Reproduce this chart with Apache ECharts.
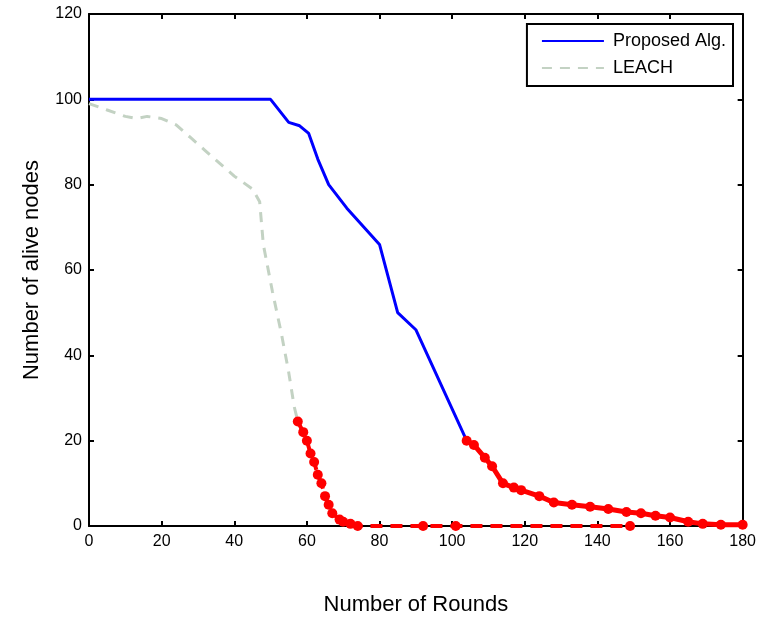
<!DOCTYPE html>
<html>
<head>
<meta charset="utf-8">
<title>Alive nodes</title>
<script src="https://cdn.jsdelivr.net/npm/echarts@6/dist/echarts.min.js"></script>
<style>
  html, body { margin: 0; padding: 0; background: #fff; }
  #main { width: 759px; height: 621px; }
</style>
</head>
<body>
<div id="main"></div>
<script>
// data: [round, alive nodes]
var proposed = [[0,100],[25,100],[50,100],[55,94.6],[58,93.8],[60.5,92],[63,86],[66,80],[71,74.5],[80,66],[85,50],[90,46],[104,20]];
var proposedTail = [[104,20],[106,19],[109,16],[111,14],[114,10],[117,9],[119,8.4],[124,7],[128,5.5],[133,5],[138,4.5],[143,4],[148,3.3],[152,3],[156,2.4],[160,2],[165,1],[169,0.5],[174,0.3],[180,0.3]];
var leach = [[0,99],[5,97.5],[10,96],[13,95.5],[16,96],[20,95.5],[24,94],[28,91],[32,88],[36,85],[40,82],[45,79],[47,76],[48,66],[50.5,55],[53,45],[55,36],[56.5,28],[57.5,24.5]];
var leachTail = [[57.5,24.5],[59,22],[60,20],[61,17],[62,15],[63,12],[64,10],[65,7],[66,5],[67,3],[69,1.5],[70,1],[72,0.5],[74,0],[92,0],[101,0],[149,0]];
var seriesNames = ['Proposed Alg.', 'LEACH'];

var myChart = echarts.init(document.getElementById('main'));

var font = 'Liberation Sans';
var axisLine = { show: true, onZero: false, lineStyle: { color: '#000', width: 2 } };
var tick = { show: true, inside: true, length: 5, lineStyle: { color: '#000', width: 2 } };

var option = {
  animation: false,
  grid: { left: 89, right: 15, top: 14, bottom: 95 },
  legend: {
    data: seriesNames,
    orient: 'vertical',
    right: 26,
    top: 24,
    padding: [8, 7, 9, 14],
    itemGap: 9,
    itemWidth: 62,
    itemHeight: 16,
    borderColor: '#000',
    borderWidth: 2,
    backgroundColor: '#fff',
    itemStyle: { opacity: 0 },
    textStyle: { fontFamily: font, fontSize: 18, color: '#000', padding: [0, 0, 0, 4] }
  },
  xAxis: [{
    type: 'value', min: 0, max: 180, interval: 20,
    name: 'Number of Rounds', nameLocation: 'middle', nameGap: 68,
    nameTextStyle: { fontFamily: font, fontSize: 22, color: '#000' },
    axisLine: axisLine, axisTick: tick,
    axisLabel: { fontFamily: font, fontSize: 16, color: '#000', margin: 8 },
    splitLine: { show: false }
  }, {
    type: 'value', min: 0, max: 180, interval: 20, position: 'top',
    axisLine: axisLine, axisTick: tick, axisLabel: { show: false }, splitLine: { show: false }
  }],
  yAxis: [{
    type: 'value', min: 0, max: 120, interval: 20,
    name: 'Number of alive nodes', nameLocation: 'middle', nameGap: 46,
    nameTextStyle: { fontFamily: font, fontSize: 22, color: '#000' },
    axisLine: axisLine, axisTick: tick,
    axisLabel: { fontFamily: font, fontSize: 16, color: '#000', margin: 7 },
    splitLine: { show: false }
  }, {
    type: 'value', min: 0, max: 120, interval: 20, position: 'right',
    axisLine: axisLine, axisTick: tick, axisLabel: { show: false }, splitLine: { show: false }
  }],
  series: [
    {
      name: seriesNames[0], type: 'line', data: proposed, symbol: 'none',
      lineStyle: { color: '#0000ff', width: 3 }, itemStyle: { color: '#0000ff' }, z: 3
    },
    {
      name: seriesNames[1], type: 'line', data: leach, symbol: 'none',
      lineStyle: { color: '#c3d2c3', width: 3, type: [10, 8] }, itemStyle: { color: '#c3d2c3' }, z: 2
    },
    {
      name: 'proposedTail', type: 'line', data: proposedTail, symbol: 'circle', symbolSize: 10,
      lineStyle: { color: '#ff0000', width: 5 }, itemStyle: { color: '#ff0000' }, z: 4
    },
    {
      name: 'leachTail', type: 'line', data: leachTail, symbol: 'circle', symbolSize: 10,
      lineStyle: { color: '#ff0000', width: 4, type: [12, 8] }, itemStyle: { color: '#ff0000' }, z: 4
    }
  ]
};

myChart.setOption(option);
</script>
</body>
</html>
